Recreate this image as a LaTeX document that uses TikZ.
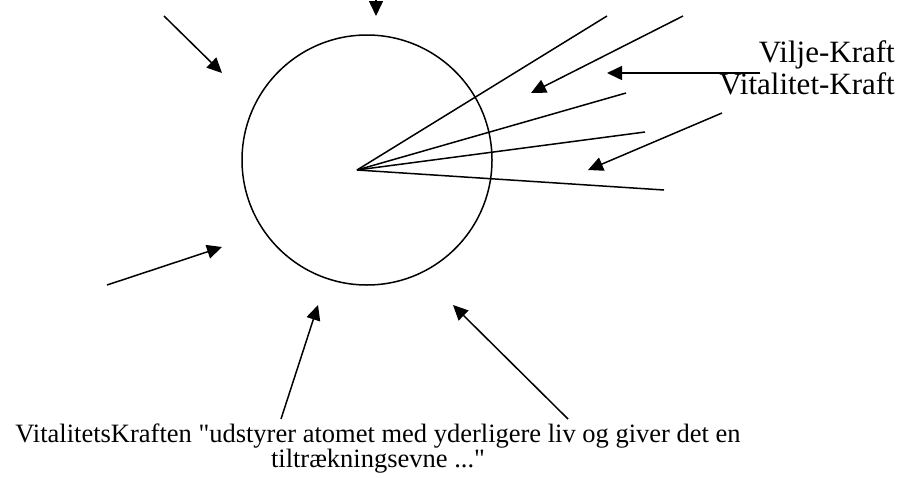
\documentclass[tikz,border=0pt]{standalone}
\usepackage{fontspec}
\setmainfont{Liberation Serif}
\usetikzlibrary{arrows.meta}
\begin{document}
\begin{tikzpicture}[x=1pt,y=-1pt,
  ln/.style={line width=1.5pt},
  arr/.style={line width=1.5pt,-{Triangle[length=15pt,width=14pt]}},
  lbl/.style={inner sep=0pt,font=\fontsize{31}{31}\selectfont}]
\useasboundingbox (0,0) rectangle (899,477);
% circle
\node[draw,circle,line width=1.5pt,minimum size=250pt,inner sep=0pt] (atom) at (367,160) {};
% centre and rays
\coordinate (c) at (357,170);
\coordinate (r1) at (607,16);
\coordinate (r2) at (626,93);
\coordinate (r3) at (645,132);
\coordinate (r4) at (664,190);
\draw[ln] (c) -- (r1);
\draw[ln] (c) -- (r2);
\draw[ln] (c) -- (r3);
\draw[ln] (c) -- (r4);
% arrows on the right
\coordinate (a1s) at (683,16);  \coordinate (a1e) at (531,93);
\coordinate (a2s) at (760,73);  \coordinate (a2e) at (607,73);
\coordinate (a3s) at (722,113); \coordinate (a3e) at (588,170);
\draw[arr] (a1s) -- (a1e);
\draw[arr] (a2s) -- (a2e);
\draw[arr] (a3s) -- (a3e);
% arrows around the circle
\coordinate (t s) at (376,-10); \coordinate (t e) at (376,16);
\coordinate (tl s) at (164,16); \coordinate (tl e) at (222,73);
\coordinate (bl s) at (107,285); \coordinate (bl e) at (222,247);
\coordinate (b1 s) at (281,419); \coordinate (b1 e) at (318,305);
\coordinate (b2 s) at (568,419); \coordinate (b2 e) at (453,305);
\draw[arr] (t s) -- (t e);
\draw[arr] (tl s) -- (tl e);
\draw[arr] (bl s) -- (bl e);
\draw[arr] (b1 s) -- (b1 e);
\draw[arr] (b2 s) -- (b2 e);
% labels
\node[lbl,anchor=base east] (vilje) at (895,62) {Vilje-Kraft};
\node[lbl,anchor=base east] (vital) at (895,94.5) {Vitalitet-Kraft};
\node[inner sep=0pt,align=center,anchor=base,font=\fontsize{26.5}{25}\selectfont] (quote) at (378,467)
  {VitalitetsKraften \textquotedbl udstyrer atomet med yderligere liv og giver det en\\tiltrækningsevne ...\textquotedbl};
\end{tikzpicture}
\end{document}
